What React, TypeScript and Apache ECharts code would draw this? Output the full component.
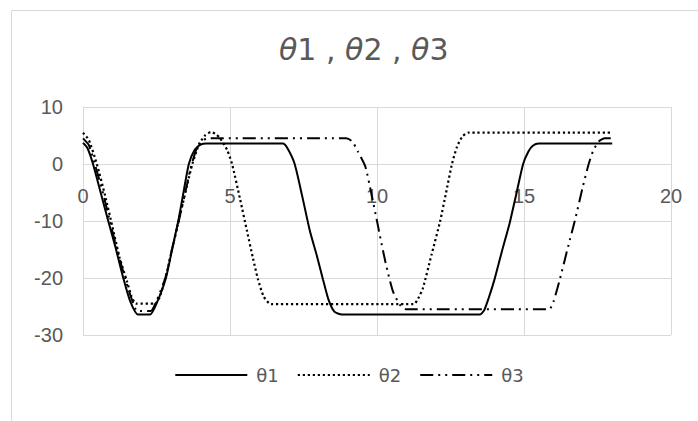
import React, { useEffect, useRef } from "react";
import * as echarts from "echarts";

const titleParts = ["1", "2", "3"];
const seriesNames = ["θ1", "θ2", "θ3"];
const xTicks = [0, 5, 10, 15, 20];
const yTicks = [-30, -20, -10, 0, 10];

const theta1: [number, number][] = [
  [0, 3.7], [0.15, 2.8], [0.34, 0], [0.6, -5], [0.88, -10.4], [1.1, -14.5], [1.37, -20], [1.6, -24],
  [1.87, -26.4], [2.28, -26.4], [2.5, -24.5], [2.82, -20], [3.05, -14.5], [3.24, -10], [3.4, -5.5],
  [3.6, 0], [3.8, 2.5], [4.0, 3.4], [4.2, 3.6], [6.8, 3.6], [6.95, 2.8], [7.2, 0], [7.45, -5.5],
  [7.72, -11.8], [7.95, -16], [8.16, -20.2], [8.35, -23.8], [8.55, -25.9], [8.8, -26.4],
  [13.5, -26.4], [13.65, -25.6], [13.8, -23.5], [14.0, -20.2], [14.25, -15.3], [14.52, -10.2],
  [14.75, -5], [14.97, 0], [15.15, 2.2], [15.3, 3.2], [15.5, 3.6], [18, 3.6],
];

const theta2: [number, number][] = [
  [0, 5.5], [0.2, 4.2], [0.47, 0], [0.75, -5.5], [1.0, -11], [1.25, -16.5], [1.49, -20.5],
  [1.65, -23.2], [1.8, -24.5], [2.45, -24.5], [2.6, -23.5], [2.8, -20], [3.05, -14.5], [3.3, -9],
  [3.55, -3.5], [3.72, 0], [3.95, 3.5], [4.15, 5.0], [4.35, 5.6], [4.5, 5.3], [4.65, 4.6],
  [4.9, 2.5], [5.07, 0], [5.34, -6.1], [5.58, -11.8], [5.78, -16.5], [5.95, -20.2], [6.15, -23.3],
  [6.4, -24.6], [11.25, -24.6], [11.4, -23.6], [11.56, -21.8], [11.85, -16], [12.14, -10.2],
  [12.35, -5], [12.55, 0], [12.72, 3.0], [12.9, 4.8], [13.1, 5.5], [18, 5.5],
];

const theta3: [number, number][] = [
  [0, 4.5], [0.2, 3.3], [0.4, 0], [0.7, -5.5], [0.95, -10.8], [1.2, -15.8], [1.43, -20],
  [1.65, -23.6], [1.85, -25.8], [2.3, -25.8], [2.5, -24], [2.8, -20], [3.05, -14.5], [3.28, -9.5],
  [3.5, -4.5], [3.65, -1], [3.85, 2.5], [4.05, 4.1], [4.3, 4.5], [8.95, 4.5], [9.15, 4.0],
  [9.35, 2.2], [9.6, -0.4], [9.8, -5], [10.0, -10], [10.1, -12.6], [10.3, -17.5], [10.54, -22.3],
  [10.78, -24.7], [11.0, -25.5], [15.85, -25.5], [16.0, -24.2], [16.22, -20.2], [16.5, -14.5],
  [16.75, -9.5], [17.0, -4], [17.2, 0], [17.35, 2.3], [17.55, 4.0], [17.75, 4.5], [18, 4.5],
];

const seriesData = [theta1, theta2, theta3];

export default function App() {
  const ref = useRef<HTMLDivElement>(null);
  useEffect(() => {
    if (!ref.current) return;
    const chart = echarts.init(ref.current, null, { renderer: "svg" });
    const grey = "#595959";
    const grid = "#d9d9d9";
    const gridTop = 107;
    const gridBottom = 86;
    const plotH = 421 - gridTop - gridBottom;
    const yMin = yTicks[0];
    const yMax = yTicks[yTicks.length - 1];
    const zeroOffset = -plotH * ((0 - yMin) / (yMax - yMin));
    const styles = [
      { type: "solid" as any, width: 2 },
      { type: [2.2, 2.8] as any, width: 2.2 },
      { type: [13, 5, 2, 5, 2, 5] as any, width: 2 },
    ];
    const titleText = titleParts.map((d) => "{i|θ}" + d).join(" , ");
    chart.setOption({
      animation: false,
      graphic: [
        {
          type: "rect",
          shape: { x: 11.5, y: 10.5, width: 720, height: 430 },
          style: { fill: "none", stroke: grid, lineWidth: 1 },
          silent: true,
        },
      ],
      title: {
        text: titleText,
        left: 274,
        top: 29,
        textStyle: {
          fontFamily: "DejaVu Sans",
          fontSize: 30,
          fontWeight: "normal",
          color: grey,
          rich: {
            i: { fontFamily: "DejaVu Sans", fontSize: 30, fontStyle: "italic", color: grey },
          },
        },
      },
      legend: {
        left: "center",
        top: 361,
        itemWidth: 72,
        itemHeight: 14,
        itemGap: 18,
        itemStyle: { opacity: 0, color: "transparent", borderWidth: 0 },
        textStyle: { fontFamily: "DejaVu Sans", fontSize: 18, color: grey, padding: [0, 0, 0, 4] },
        data: seriesNames,
      },
      grid: { left: 83, right: 27, top: gridTop, bottom: gridBottom, containLabel: false },
      xAxis: {
        type: "value",
        min: xTicks[0],
        max: xTicks[xTicks.length - 1],
        interval: 5,
        offset: zeroOffset,
        axisLine: { onZero: false, lineStyle: { color: grid, width: 1 } },
        axisTick: { show: false },
        axisLabel: { color: grey, fontSize: 20, fontFamily: "Liberation Sans", margin: 22 },
        splitLine: { show: true, lineStyle: { color: grid, width: 1 } },
      },
      yAxis: {
        type: "value",
        min: yMin,
        max: yMax,
        interval: 10,
        axisLine: { show: true, onZero: false, lineStyle: { color: grid, width: 1 } },
        axisTick: { show: false },
        axisLabel: { color: grey, fontSize: 20, fontFamily: "Liberation Sans", margin: 20 },
        splitLine: { show: true, lineStyle: { color: grid, width: 1 } },
      },
      series: seriesNames.map((name, i) => ({
        name,
        type: "line",
        data: seriesData[i],
        showSymbol: false,
        symbol: "none",
        smooth: 0.2,
        lineStyle: { color: "#000", ...styles[i] },
        itemStyle: { color: "#000" },
      })),
    });
    return () => chart.dispose();
  }, []);
  return (
    <div
      ref={ref}
      style={{ position: "fixed", left: 0, top: 0, width: 698, height: 421, background: "#fff" }}
    />
  );
}
